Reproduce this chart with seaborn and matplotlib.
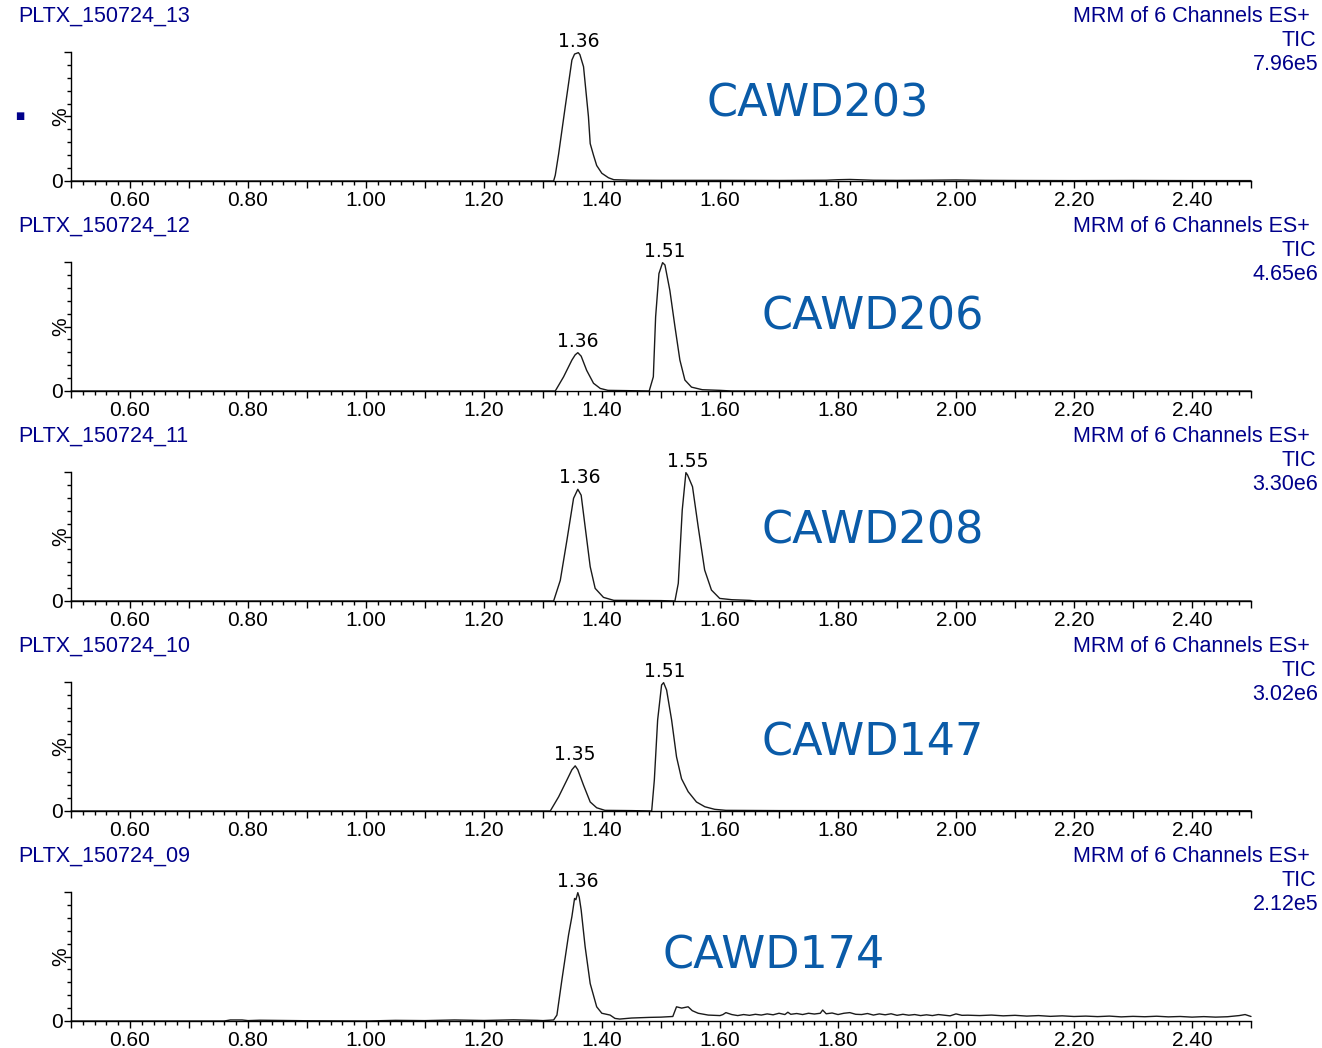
import matplotlib
matplotlib.use("Agg")
import matplotlib.pyplot as plt
import seaborn as sns
from matplotlib.ticker import MultipleLocator, FixedLocator, FixedFormatter, FuncFormatter

# sample names, compound labels and TIC intensities (top to bottom)
samples = ["PLTX_150724_13", "PLTX_150724_12", "PLTX_150724_11", "PLTX_150724_10", "PLTX_150724_09"]
compounds = ["CAWD203", "CAWD206", "CAWD208", "CAWD147", "CAWD174"]
tic_values = ["7.96e5", "4.65e6", "3.30e6", "3.02e6", "2.12e5"]

# traces: retention time (min) and relative intensity (%)
rt_13 = [0.50, 1.20, 1.318, 1.3208, 1.3265, 1.3377, 1.349, 1.3535, 1.360, 1.3625, 1.3687, 1.377, 1.380,
         1.3856, 1.391, 1.3997, 1.411, 1.42, 1.45, 1.50, 1.60, 1.70, 1.78, 1.80, 1.82, 1.84, 1.86,
         1.90, 1.95, 2.00, 2.05, 2.10, 2.20, 2.30, 2.40, 2.50]
int_13 = [0, 0, 0, 4.5, 21, 57.6, 93.8, 98.4, 99.5, 98, 88.6, 50, 29,
          20, 12, 6, 2.5, 1, 0.6, 0.5, 0.5, 0.4, 0.6, 1.0, 1.2, 0.9, 0.6,
          0.5, 0.6, 0.8, 0.5, 0.4, 0.3, 0.4, 0.3, 0.3]

rt_12 = [0.50, 1.30, 1.3208, 1.3349, 1.349, 1.3546, 1.359, 1.3647, 1.374, 1.3856, 1.397, 1.41, 1.44,
         1.48, 1.487, 1.4909, 1.4965, 1.5027, 1.5067, 1.515, 1.5236, 1.532, 1.5405, 1.5517, 1.57,
         1.60, 1.62, 2.50]
int_12 = [0, 0, 0, 11, 24, 28, 29.7, 27, 16, 6, 2, 0.5, 0.3,
          0, 11, 57.6, 91, 99.5, 97.7, 78, 50, 24, 8.5, 3, 1,
          0.5, 0, 0]

rt_11 = [0.50, 1.30, 1.318, 1.3293, 1.3405, 1.3518, 1.359, 1.3647, 1.3714, 1.380, 1.3884, 1.4025, 1.42,
         1.50, 1.5236, 1.5293, 1.536, 1.5422, 1.545, 1.5534, 1.563, 1.574, 1.5855, 1.5995, 1.62,
         1.65, 1.66, 2.50]
int_11 = [0, 0, 0, 16, 47, 79.6, 86.6, 82, 57.6, 26.6, 9.8, 2.8, 0.5,
          0.3, 0, 13.7, 70.5, 99.5, 97.7, 88.6, 57.6, 24, 8.5, 2, 1,
          0.5, 0, 0]

rt_10 = [0.50, 1.30, 1.3123, 1.3265, 1.3405, 1.349, 1.3546, 1.359, 1.3687, 1.380, 1.391, 1.405, 1.45,
         1.4842, 1.4887, 1.4943, 1.501, 1.5044, 1.5095, 1.518, 1.5263, 1.5348, 1.546, 1.5601, 1.5743,
         1.591, 1.61, 1.70, 2.00, 2.50]
int_10 = [0, 0, 0, 11, 24, 32, 35, 32, 20, 7, 2.5, 0.5, 0.3,
          0, 24, 70.5, 97.7, 99.5, 93.8, 70.5, 42, 25, 15, 7, 3.3,
          1.3, 0.5, 0.3, 0.2, 0.2]

rt_09 = [0.50, 0.76, 0.77, 0.79, 0.80, 0.82, 0.90, 1.00, 1.05, 1.10, 1.15, 1.20, 1.25, 1.29, 1.30,
         1.318, 1.3236, 1.332, 1.3433, 1.349, 1.3535, 1.3557, 1.359, 1.3614, 1.3647, 1.3714, 1.380,
         1.391, 1.3997, 1.4137, 1.422, 1.43, 1.45, 1.48, 1.50, 1.52, 1.5263, 1.535, 1.546, 1.553,
         1.563, 1.58, 1.60, 1.605, 1.61, 1.62, 1.63, 1.64, 1.65, 1.66, 1.67, 1.68, 1.69, 1.70, 1.71,
         1.715, 1.72, 1.73, 1.74, 1.75, 1.76, 1.77, 1.774, 1.78, 1.79, 1.80, 1.81, 1.82, 1.83, 1.84,
         1.85, 1.86, 1.87, 1.88, 1.89, 1.90, 1.91, 1.92, 1.93, 1.94, 1.95, 1.96, 1.97, 1.98, 1.99,
         2.00, 2.01, 2.02, 2.04, 2.06, 2.08, 2.10, 2.12, 2.14, 2.16, 2.18, 2.20, 2.22, 2.24, 2.26,
         2.28, 2.30, 2.32, 2.34, 2.36, 2.38, 2.40, 2.42, 2.44, 2.46, 2.48, 2.49, 2.50]
int_09 = [0, 0, 0.8, 0.8, 0.3, 0.6, 0.2, 0, 0.5, 0.3, 0.8, 0.4, 0.9, 0.5, 0.3,
          0.8, 4.6, 31.8, 66.7, 81, 95, 94, 99.5, 96, 86, 57.6, 29,
          11, 6, 4.6, 2, 1.5, 2.3, 2.8, 3.0, 3.5, 11, 10, 11, 8,
          6, 4.6, 4.2, 5.0, 6.5, 5.0, 4.2, 5.0, 4.4, 5.2, 4.6, 5.5, 4.8, 6.0, 5.0,
          6.8, 5.2, 5.8, 5.0, 6.0, 5.4, 6.0, 8.5, 5.6, 6.2, 5.0, 6.0, 6.5, 5.2, 5.0,
          5.8, 4.6, 5.5, 4.8, 5.6, 4.4, 5.2, 4.5, 5.0, 4.2, 4.8, 4.2, 5.0, 4.5, 4.0,
          5.5, 4.4, 4.5, 4.2, 4.6, 4.0, 4.4, 3.8, 4.2, 3.6, 4.0, 3.5, 3.8, 3.4, 3.8,
          3.2, 3.6, 3.3, 3.7, 3.2, 3.5, 3.0, 3.4, 3.0, 3.3, 4.2, 5.0, 3.5]

rts = [rt_13, rt_12, rt_11, rt_10, rt_09]
intensities = [int_13, int_12, int_11, int_10, int_09]

# labelled peak apexes
peak_rt = [[1.3613], [1.3585, 1.5056], [1.362, 1.546], [1.3535, 1.5056], [1.3585]]
peak_int = [[99.5], [29.7, 99.5], [86.6, 99.5], [35, 99.5], [99.5]]

# compound label centres (pixels) per panel
compound_pos = [(818, 104), (873, 317), (873, 531), (873, 743), (774, 956)]

sns.set_theme(style="ticks")
plt.rcParams["font.family"] = ["Liberation Sans", "DejaVu Sans"]

W, H = 1322, 1048
fig = plt.figure(figsize=(W / 100, H / 100), dpi=100)
navy = "#00008b"
blue = "#0a5ba8"

def fx(px):
    return px / W

def fy(py):
    return 1 - py / H

for i in range(5):
    top = 52 + 210 * i
    bottom = 181 + 210 * i
    ax = fig.add_axes([fx(71), fy(bottom), fx(1251) - fx(71), (bottom - top) / H])
    sns.lineplot(x=rts[i], y=intensities[i], ax=ax, color="#1a1a1a", linewidth=1.0,
                 estimator=None, sort=False)
    for line in ax.lines:
        line.set_clip_on(False)
    ax.set_xlim(0.5, 2.5)
    ax.set_ylim(0, 100)
    sns.despine(ax=ax)
    for s in ["left", "bottom"]:
        ax.spines[s].set_linewidth(1.0)
        ax.spines[s].set_color("black")

    ax.xaxis.set_major_locator(MultipleLocator(0.1))
    ax.xaxis.set_minor_locator(MultipleLocator(0.02))
    ax.xaxis.set_major_formatter(FuncFormatter(
        lambda v, p: f"{v:.2f}" if round(v * 10) % 2 == 0 and v > 0.55 else ""))
    ax.yaxis.set_major_locator(FixedLocator([0, 50, 100]))
    ax.yaxis.set_major_formatter(FixedFormatter(["0", "", ""]))
    ax.yaxis.set_minor_locator(MultipleLocator(10))
    ax.tick_params(axis="both", which="major", length=5, width=1, color="black",
                   labelsize=15, labelcolor="black", direction="out")
    ax.tick_params(axis="x", which="major", pad=2.5)
    ax.tick_params(axis="y", which="major", pad=1)
    ax.tick_params(axis="both", which="minor", length=3, width=1, color="black", direction="out")
    ax.set_xlabel("")
    ax.set_ylabel("")
    ax.text(-0.009, 0.5, "%", rotation=90, transform=ax.transAxes, ha="center", va="center",
            fontsize=15, color="black")
    ax.patch.set_alpha(0)

    for prt, pint in zip(peak_rt[i], peak_int[i]):
        ax.annotate(f"{prt:.2f}", (prt, pint), xytext=(0, 1.5), textcoords="offset points",
                    ha="center", va="bottom", fontsize=13.5, color="black",
                    family="DejaVu Sans", annotation_clip=False)

    yt = 16 + 210 * i
    fig.text(fx(18), fy(yt), samples[i], ha="left", va="center", fontsize=15.5, color=navy)
    fig.text(fx(1310), fy(yt), "MRM of 6 Channels ES+", ha="right", va="center",
             fontsize=15.5, color=navy)
    fig.text(fx(1316), fy(yt + 24), "TIC", ha="right", va="center", fontsize=15.5, color=navy)
    fig.text(fx(1318), fy(yt + 48), tic_values[i], ha="right", va="center", fontsize=15.5, color=navy)

    cx, cy = compound_pos[i]
    fig.text(fx(cx), fy(cy), compounds[i], ha="center", va="center", fontsize=32,
             color=blue, family="DejaVu Sans")

# small marker left of the first panel
fig.text(fx(20), fy(116), "■", ha="center", va="center", fontsize=7, color=navy,
         family="DejaVu Sans")

fig.savefig("out.png", dpi=100)
